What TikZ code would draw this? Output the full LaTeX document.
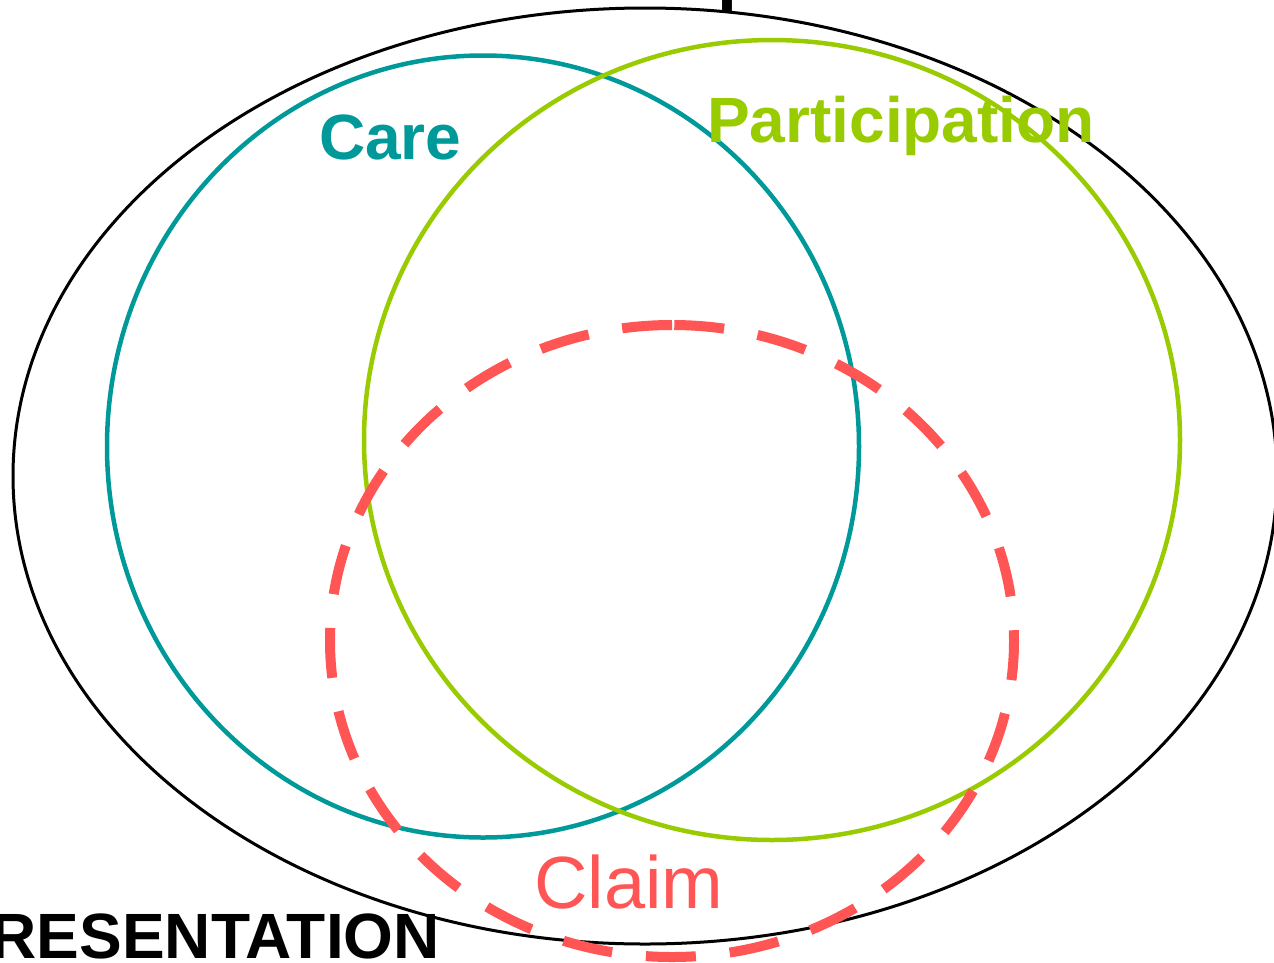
\documentclass[tikz,border=0pt]{standalone}
\usepackage{fontspec}
\setmainfont{Liberation Sans}
\definecolor{careC}{HTML}{009999}
\definecolor{partC}{HTML}{99CC00}
\definecolor{claimC}{HTML}{FF5555}
\begin{document}
\begin{tikzpicture}[x=1pt,y=-1pt,
  outerring/.style={draw=black,line width=3pt},
  carering/.style={draw=careC,line width=4.5pt},
  partring/.style={draw=partC,line width=4.5pt},
  claimring/.style={draw=claimC,line width=10pt,dash pattern=on 50pt off 34pt},
  boldlabel/.style={font=\fontsize{64}{64}\selectfont\bfseries,inner sep=0pt},
  thinlabel/.style={font=\fontsize{74}{74}\selectfont,inner sep=0pt}]
\useasboundingbox (0,0) rectangle (1274,962);
\clip (0,0) rectangle (1274,962);
\fill[white] (0,0) rectangle (1274,962);
\coordinate (oc) at (645,476);
\coordinate (cc) at (483,446.5);
\coordinate (pc) at (772,440);
\coordinate (kc) at (672,641);
\draw[outerring] (oc) ellipse [x radius=632, y radius=468];
\draw[carering] (cc) ellipse [x radius=376, y radius=391];
\draw[partring] (pc) ellipse [x radius=408, y radius=400];
\draw[claimring] (kc) ++(0,-316) arc[start angle=270, end angle=-90, x radius=342, y radius=316];
\node[boldlabel,text=careC,anchor=base west] (care) at (319,159) {Care};
\node[boldlabel,text=partC,anchor=base west] (part) at (707,142) {Participation};
\node[thinlabel,text=claimC,anchor=base west] (claim) at (534,908) {Claim};
\node[boldlabel,text=black,anchor=base east] (repr) at (440,958) {REPRESENTATION};
\node[font=\fontsize{72}{72}\selectfont\bfseries,inner sep=0pt,anchor=base] (title) at (648,-1.5) {Political Spaces};
\end{tikzpicture}
\end{document}
